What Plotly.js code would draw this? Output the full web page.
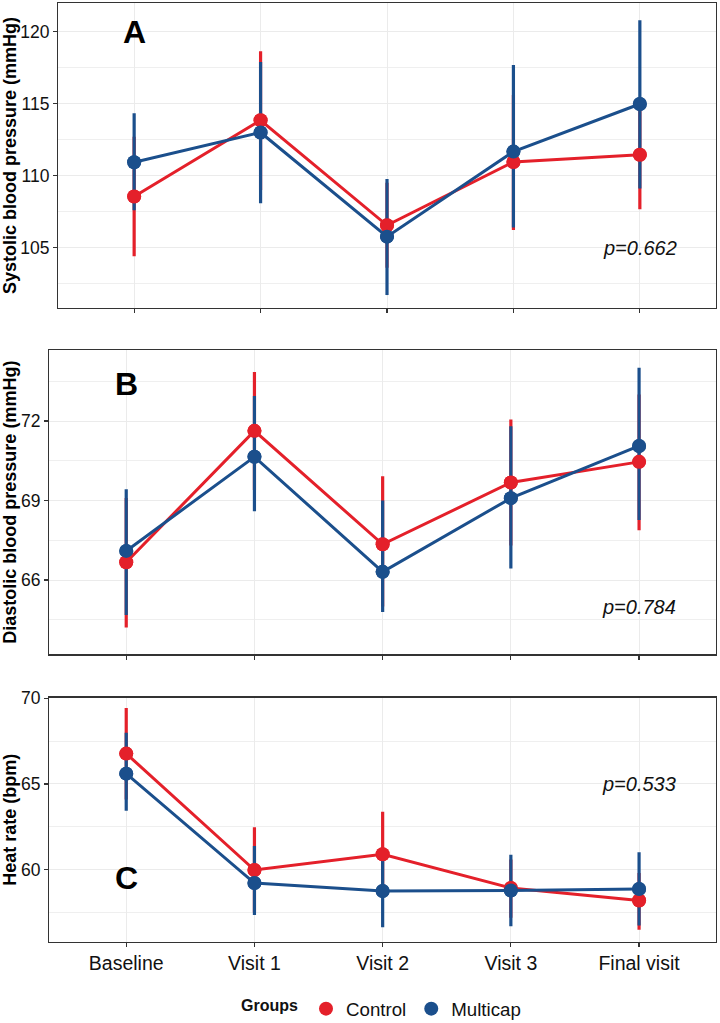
<!DOCTYPE html>
<html>
<head>
<meta charset="utf-8">
<script src="https://cdn.plot.ly/plotly-3.0.1.min.js"></script>
<style>html,body{margin:0;padding:0;background:#fff}#chart{width:720px;height:1023px}</style>
</head>
<body>
<div id="chart"></div>
<script>
const visits = ["Baseline", "Visit 1", "Visit 2", "Visit 3", "Final visit"];
const groups = ["Control", "Multicap"];

// Panel A: systolic
const sysControlMean  = [108.55, 113.85, 106.55, 110.95, 111.45];
const sysControlUpper = [112.7, 118.65, 109.5, 115.6, 115.2];
const sysControlLower = [104.4, 109.0, 103.6, 106.23, 107.67];
const sysMultiMean  = [110.93, 113.0, 105.76, 111.67, 114.98];
const sysMultiUpper = [114.33, 117.9, 109.77, 117.69, 120.8];
const sysMultiLower = [107.6, 108.08, 101.7, 106.4, 109.1];

// Panel B: diastolic
const diaControlMean  = [66.67, 71.63, 67.35, 69.68, 70.46];
const diaControlUpper = [69.1, 73.85, 69.92, 72.06, 73.0];
const diaControlLower = [64.21, 69.4, 65.0, 67.3, 67.88];
const diaMultiMean  = [67.1, 70.65, 66.31, 69.09, 71.06];
const diaMultiUpper = [69.43, 72.94, 69.0, 71.8, 74.01];
const diaMultiLower = [64.68, 68.6, 64.8, 66.44, 68.27];

// Panel C: heart rate
const hrControlMean  = [66.77, 59.98, 60.9, 58.93, 58.2];
const hrControlUpper = [69.43, 62.47, 63.38, 60.6, 59.8];
const hrControlLower = [64.1, 57.5, 58.4, 57.2, 56.5];
const hrMultiMean  = [65.6, 59.22, 58.76, 58.79, 58.87];
const hrMultiUpper = [67.98, 61.38, 60.88, 60.87, 61.02];
const hrMultiLower = [63.44, 57.36, 56.64, 56.7, 56.75];

const panelLabels = ["A", "B", "C"];
const pValues = ["p=0.662", "p=0.784", "p=0.533"];
const yTitles = ["Systolic blood pressure (mmHg)", "Diastolic blood pressure (mmHg)", "Heat rate (bpm)"];

const RED = "#E4202A";
const BLUE = "#1B4F8C";
const FONT = "Liberation Sans, Arial, Helvetica, sans-serif";

function diff(a, b) { return a.map((v, i) => v - b[i]); }

const panels = [
  {x: "x", y: "y", c: [sysControlMean, sysControlUpper, sysControlLower], m: [sysMultiMean, sysMultiUpper, sysMultiLower]},
  {x: "x2", y: "y2", c: [diaControlMean, diaControlUpper, diaControlLower], m: [diaMultiMean, diaMultiUpper, diaMultiLower]},
  {x: "x3", y: "y3", c: [hrControlMean, hrControlUpper, hrControlLower], m: [hrMultiMean, hrMultiUpper, hrMultiLower]}
];

const traces = [];
panels.forEach((p, idx) => {
  const series = [[groups[0], RED, p.c], [groups[1], BLUE, p.m]];
  // point ranges first (error bars below lines); these also provide the legend keys
  series.forEach(([name, col, d]) => {
    traces.push({
      type: "scatter", mode: "markers", x: visits, y: d[0], xaxis: p.x, yaxis: p.y,
      marker: {color: col, size: 14},
      error_y: {type: "data", symmetric: false, array: diff(d[1], d[0]), arrayminus: diff(d[0], d[2]),
                color: col, thickness: 3.2, width: 0},
      showlegend: idx === 2, legendgroup: name, hoverinfo: "skip", name: name
    });
  });
  series.forEach(([name, col, d]) => {
    traces.push({
      type: "scatter", mode: "lines+markers", x: visits, y: d[0], xaxis: p.x, yaxis: p.y,
      line: {color: col, width: 3},
      marker: {color: col, size: 14},
      name: name, legendgroup: name, showlegend: false
    });
  });
});

const grid = "#EBEBEB";
function xAxis(domain, anchor, showLabels) {
  return {
    type: "category", categoryarray: visits, range: [-0.6, 4.6], domain: domain, anchor: anchor,
    showgrid: true, gridcolor: grid, gridwidth: 1, zeroline: false,
    showline: true, linecolor: "#333", linewidth: 1.3, mirror: true,
    ticks: "outside", ticklen: 4, tickcolor: "#333", tickwidth: 1.2,
    showticklabels: showLabels, tickfont: {family: FONT, size: 19.5, color: "#111"}
  };
}
function yAxis(domain, anchor, range, dtick, title) {
  return {
    range: range, domain: domain, anchor: anchor, dtick: dtick, tick0: 0,
    showgrid: true, gridcolor: grid, gridwidth: 1, zeroline: false,
    minor: {dtick: dtick / 2, tick0: 0, showgrid: true, gridcolor: grid, gridwidth: 0.8, ticks: ""},
    showline: true, linecolor: "#333", linewidth: 1.3, mirror: true,
    ticks: "outside", ticklen: 4, tickcolor: "#333", tickwidth: 1.2,
    tickfont: {family: FONT, size: 17.5, color: "#111"},
    title: {text: title, font: {family: FONT, size: 18, color: "#000", weight: "bold"}, standoff: 6}
  };
}

const layout = {
  width: 720, height: 1023,
  margin: {l: 0, r: 0, t: 0, b: 0, autoexpand: false},
  paper_bgcolor: "#fff", plot_bgcolor: "#fff",
  font: {family: FONT, color: "#111"},
  xaxis: xAxis([58.3 / 720, 715.7 / 720], "y", false),
  xaxis2: xAxis([49.3 / 720, 716 / 720], "y2", false),
  xaxis3: xAxis([49.3 / 720, 716 / 720], "y3", true),
  yaxis: yAxis([1 - 308 / 1023, 1 - 3 / 1023], "x", [100.8, 122.0], 5, yTitles[0]),
  yaxis2: yAxis([1 - 654.3 / 1023, 1 - 350 / 1023], "x2", [63.2, 74.68], 3, yTitles[1]),
  yaxis3: yAxis([1 - 941.7 / 1023, 1 - 697.7 / 1023], "x3", [55.8, 70.03], 5, yTitles[2]),
  showlegend: true,
  legend: {
    orientation: "h", x: 239 / 720, xanchor: "left", y: 14 / 1023, yanchor: "middle",
    font: {family: FONT, size: 18.7, color: "#111"},
    title: {text: "Groups", side: "left", font: {family: FONT, size: 16, color: "#111", weight: "bold"}},
    itemwidth: 30, tracegroupgap: 0
  },
  annotations: [
    {xref: "x", yref: "y", x: visits[0], y: 120, text: panelLabels[0]},
    {xref: "x2", yref: "y2", x: visits[0], y: 73.4, text: panelLabels[1]},
    {xref: "x3", yref: "y3", x: visits[0], y: 59.5, text: panelLabels[2]}
  ].map(a => Object.assign(a, {showarrow: false, font: {family: FONT, size: 32, color: "#000", weight: "bold"}}))
  .concat([
    {xref: "x", yref: "y", x: visits[4], y: 105, text: pValues[0]},
    {xref: "x2", yref: "y2", x: visits[4], y: 65, text: pValues[1]},
    {xref: "x3", yref: "y3", x: visits[4], y: 65, text: pValues[2]}
  ].map(a => Object.assign(a, {showarrow: false, font: {family: FONT, size: 20, color: "#111", style: "italic"}})))
};

Plotly.newPlot("chart", traces, layout, {displayModeBar: false, staticPlot: true});
</script>
</body>
</html>
